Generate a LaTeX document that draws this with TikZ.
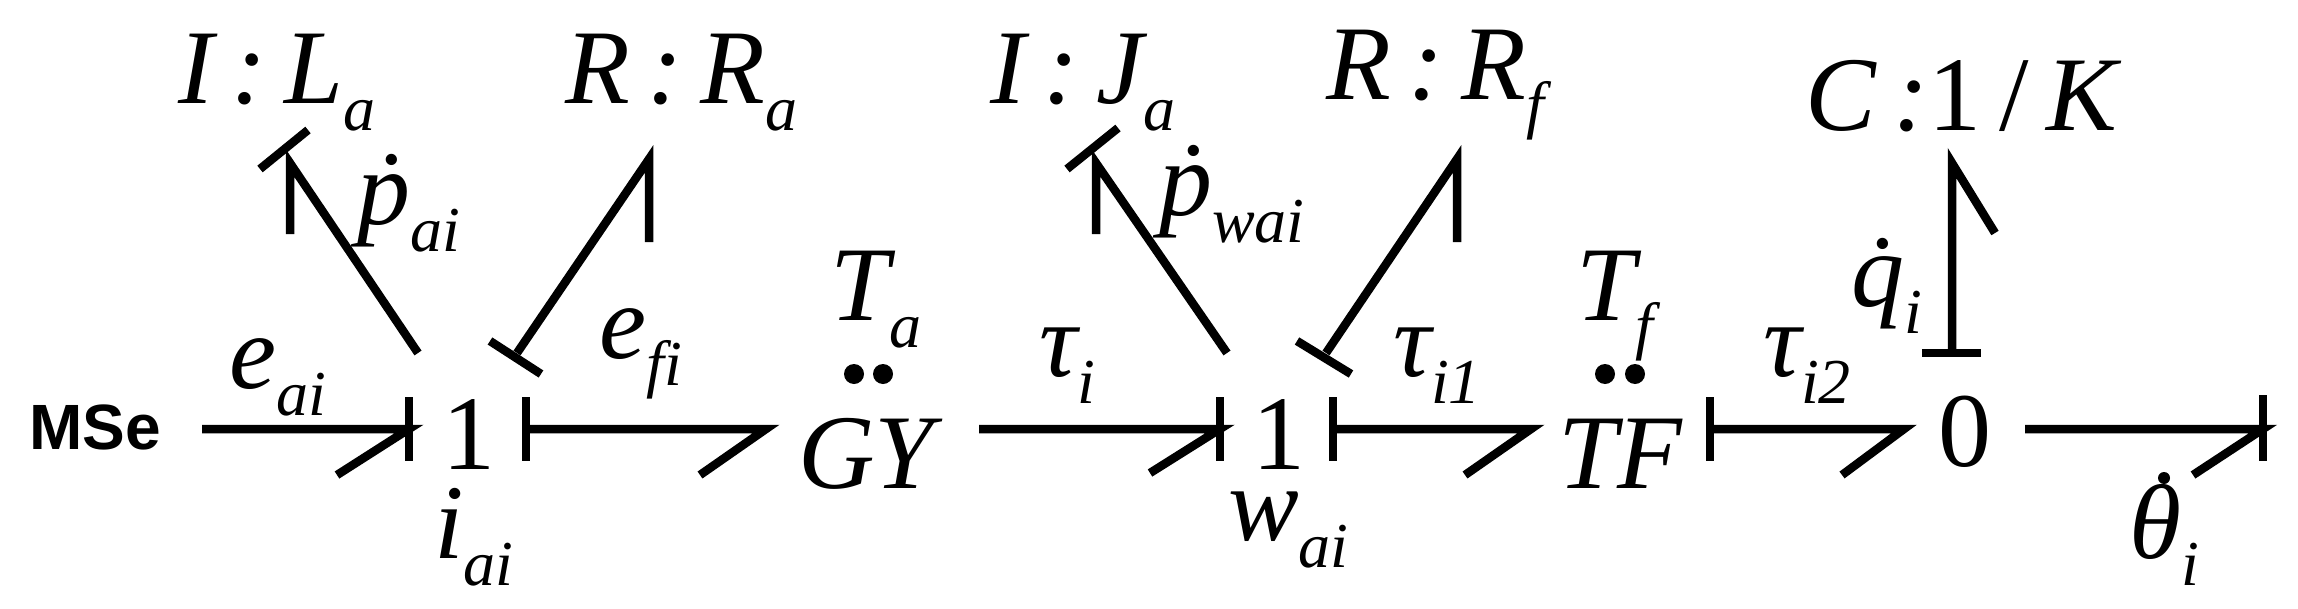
\documentclass[tikz,border=0pt]{standalone}
\usepackage{fontspec}
\setmainfont{Liberation Serif}
\newfontfamily\msefont{Liberation Sans}
\newcommand{\Bg}{\fontsize{106}{106}\selectfont\itshape}
\newcommand{\Sbb}[1]{\raisebox{-27pt}{\fontsize{64}{64}\selectfont\itshape #1}}
\begin{document}
\begin{tikzpicture}[x=1pt,y=1pt,
  bond/.style={line width=8.5pt},
  txt/.style={anchor=base west,inner sep=0pt,font=\Bg}]
\useasboundingbox (0,0) rectangle (2298,-608);
% texts
\node[anchor=center,inner sep=0pt,font=\msefont\bfseries\fontsize{64}{64}\selectfont] (mse) at (95,-427) {MSe};
\node[txt] (IL) at (178,-103) {I\,:\,L\Sbb{a}};
\node[txt] (RR) at (565,-103) {R\,:\,R\Sbb{a}};
\node[txt] (IJ) at (990,-103) {I\,:\,J\Sbb{a}};
\node[txt] (RF) at (1326,-99) {R\,:\,R\Sbb{f}};
\node[txt] (CK) at (1805,-130) {C\,:\upshape1\,/\,\itshape K};
\node[txt,font=\fontsize{106}{106}\selectfont] (one1) at (442,-469) {1};
\node[txt,font=\fontsize{106}{106}\selectfont] (one2) at (1252,-469) {1};
\node[txt,font=\fontsize{106}{106}\selectfont] (zero) at (1938,-466) {0};
\node[txt] (GY) at (798,-488) {GY};
\node[txt] (TF) at (1558,-488) {TF};
\node[txt] (Ta) at (830,-320) {T\Sbb{a}};
\node[txt] (Tf) at (1576,-320) {T\Sbb{f}};
\node[txt] (eai) at (229,-388) {e\Sbb{ai}};
\node[txt] (efi) at (599,-358) {e\Sbb{fi}};
\node[txt] (ti) at (1039,-376) {τ\Sbb{i}};
\node[txt] (ti1) at (1393,-376) {τ\Sbb{i1}};
\node[txt] (ti2) at (1763,-376) {τ\Sbb{i2}};
\node[txt] (pai) at (357,-224) {\.p\Sbb{ai}};
\node[txt] (pwai) at (1159,-215) {\.p\Sbb{wai}};
\node[txt] (qi) at (1851,-306) {\.q\Sbb{i}};
\node[txt] (iai) at (434,-558) {i\Sbb{ai}};
\node[txt] (wai) at (1228,-540) {w\Sbb{ai}};
\node[txt] (thi) at (2129,-558) {θ\Sbb{i}};
\fill (2164,-478) circle (6);
% dots
\foreach \x in {854,883,1605,1635} \fill (\x,-374) circle (10);
% coordinates
\coordinate (a1) at (202,-429); \coordinate (a2) at (409,-429);
\coordinate (b1) at (526,-429); \coordinate (b2) at (766,-429);
\coordinate (c1) at (979,-429); \coordinate (c2) at (1220,-429);
\coordinate (d1) at (1333,-429); \coordinate (d2) at (1531,-429);
\coordinate (e1) at (1710,-429); \coordinate (e2) at (1904,-429);
\coordinate (f1) at (2025,-429); \coordinate (f2) at (2263,-429);
\coordinate (g1) at (418,-353); \coordinate (g2) at (290,-163);
\coordinate (h1) at (517,-353); \coordinate (h2) at (649,-159);
\coordinate (k1) at (1227,-353); \coordinate (k2) at (1096,-163);
\coordinate (m1) at (1326,-353); \coordinate (m2) at (1457,-159);
\coordinate (n1) at (1952,-353); \coordinate (n2) at (1952,-163);
% horizontal bonds
\draw[bond] (a1) -- (a2) -- ++(-72,-46); \draw[bond] (a2) ++(0,32) -- ++(0,-64);
\draw[bond] (b1) -- (b2) -- ++(-66,-46); \draw[bond] (b1) ++(0,32) -- ++(0,-64);
\draw[bond] (c1) -- (c2) -- ++(-70,-44); \draw[bond] (c2) ++(0,32) -- ++(0,-64);
\draw[bond] (d1) -- (d2) -- ++(-66,-46); \draw[bond] (d1) ++(0,32) -- ++(0,-64);
\draw[bond] (e1) -- (e2) -- ++(-62,-46); \draw[bond] (e1) ++(0,32) -- ++(0,-64);
\draw[bond] (f1) -- (f2) -- ++(-70,-46); \draw[bond] (f2) ++(0,34) -- ++(0,-66);
% inclined bonds
\draw[bond] (g1) -- (g2) -- ++(0,-71); \draw[bond] (260,-169) -- (308,-130);
\draw[bond] (h1) -- (h2) -- ++(0,-83); \draw[bond] (490,-341) -- (541,-374);
\draw[bond] (k1) -- (k2) -- ++(0,-71); \draw[bond] (1067,-169) -- (1118,-128);
\draw[bond] (m1) -- (m2) -- ++(0,-83); \draw[bond] (1297,-341) -- (1351,-374);
\draw[bond] (n1) -- (n2) -- ++(43,-70); \draw[bond] (1922,-353) -- (1981,-353);
\end{tikzpicture}
\end{document}
